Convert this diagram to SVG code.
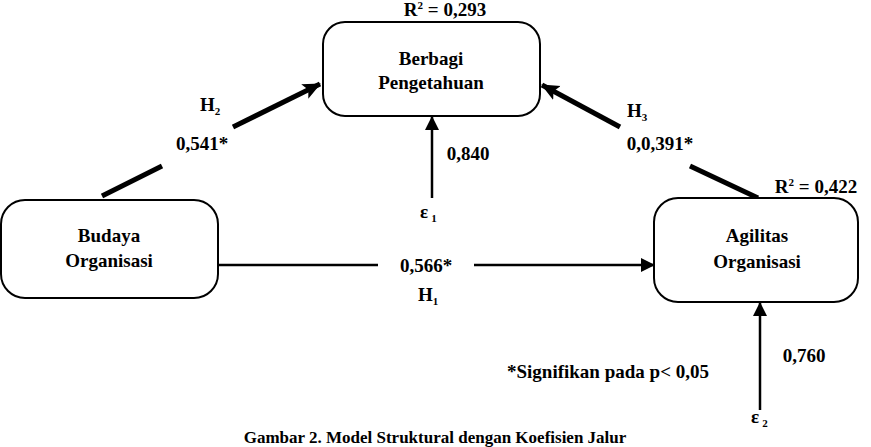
<svg xmlns="http://www.w3.org/2000/svg" width="871" height="447" viewBox="0 0 871 447">
<defs>
<marker id="ahb" markerWidth="18" markerHeight="18" refX="17" refY="9" orient="auto" markerUnits="userSpaceOnUse">
<path d="M0,1 L18,9 L0,17 L4,9 z" fill="#000"/>
</marker>
<marker id="ahv" markerWidth="14" markerHeight="16" refX="13" refY="7" orient="auto" markerUnits="userSpaceOnUse">
<path d="M0,0 L14,7 L0,14 z" fill="#000"/>
</marker>
</defs>
<rect width="871" height="447" fill="#fff"/>
<g id="connectors" stroke="#000" fill="none">
<g stroke-width="5">
<line x1="102" y1="196" x2="162" y2="166"/>
<line x1="233" y1="127" x2="320" y2="84" marker-end="url(#ahb)"/>
<line x1="758" y1="198" x2="690" y2="166"/>
<line x1="620" y1="127" x2="542" y2="85" marker-end="url(#ahb)"/>
</g>
<g stroke-width="2.5">
<line x1="432" y1="198" x2="432" y2="117" marker-end="url(#ahv)"/>
<line x1="217" y1="265" x2="378" y2="265"/>
<line x1="474" y1="265" x2="654" y2="265" marker-end="url(#ahv)"/>
<line x1="760" y1="410" x2="760" y2="303" marker-end="url(#ahv)"/>
</g>
</g>
<g font-family="Times New Roman, Liberation Serif, serif" font-size="19" font-weight="bold" fill="#000">
<g id="berbagi">
<rect fill="#fff" stroke="#000" stroke-width="2" x="323" y="22" width="217" height="94" rx="22"/>
<text x="431" y="65" text-anchor="middle">Berbagi</text>
<text x="431" y="89" text-anchor="middle">Pengetahuan</text>
</g>
<g id="budaya">
<rect fill="#fff" stroke="#000" stroke-width="2" x="1" y="200" width="217" height="98" rx="24"/>
<text x="109" y="242" text-anchor="middle">Budaya</text>
<text x="109" y="267" text-anchor="middle">Organisasi</text>
</g>
<g id="agilitas">
<rect fill="#fff" stroke="#000" stroke-width="2" x="654" y="198" width="204" height="104" rx="24"/>
<text x="757" y="242" text-anchor="middle">Agilitas</text>
<text x="757" y="268" text-anchor="middle">Organisasi</text>
</g>
<g id="labels">
<text x="445" y="16" text-anchor="middle">R<tspan font-size="11" dy="-7">2</tspan><tspan dy="7"> = 0,293</tspan></text>
<text x="816" y="193" text-anchor="middle">R<tspan font-size="11" dy="-7">2</tspan><tspan dy="7"> = 0,422</tspan></text>
<text x="200" y="111">H<tspan font-size="11" dy="4">2</tspan></text>
<text x="202" y="150" text-anchor="middle">0,541*</text>
<text x="627" y="117">H<tspan font-size="11" dy="4">3</tspan></text>
<text x="660" y="150" text-anchor="middle">0,0,391*</text>
<text x="468" y="160" text-anchor="middle">0,840</text>
<text x="420" y="218">ε<tspan font-size="11" dx="3" dy="4">1</tspan></text>
<text x="426" y="272" text-anchor="middle">0,566*</text>
<text x="418" y="301">H<tspan font-size="11" dy="4">1</tspan></text>
<text x="804" y="362" text-anchor="middle">0,760</text>
<text x="751" y="423">ε<tspan font-size="11" dx="3" dy="4">2</tspan></text>
<text x="507" y="378">*Signifikan pada p&lt; 0,05</text>
<text x="435" y="443" text-anchor="middle" font-size="17">Gambar 2. Model Struktural dengan Koefisien Jalur</text>
</g>
</g>
</svg>
